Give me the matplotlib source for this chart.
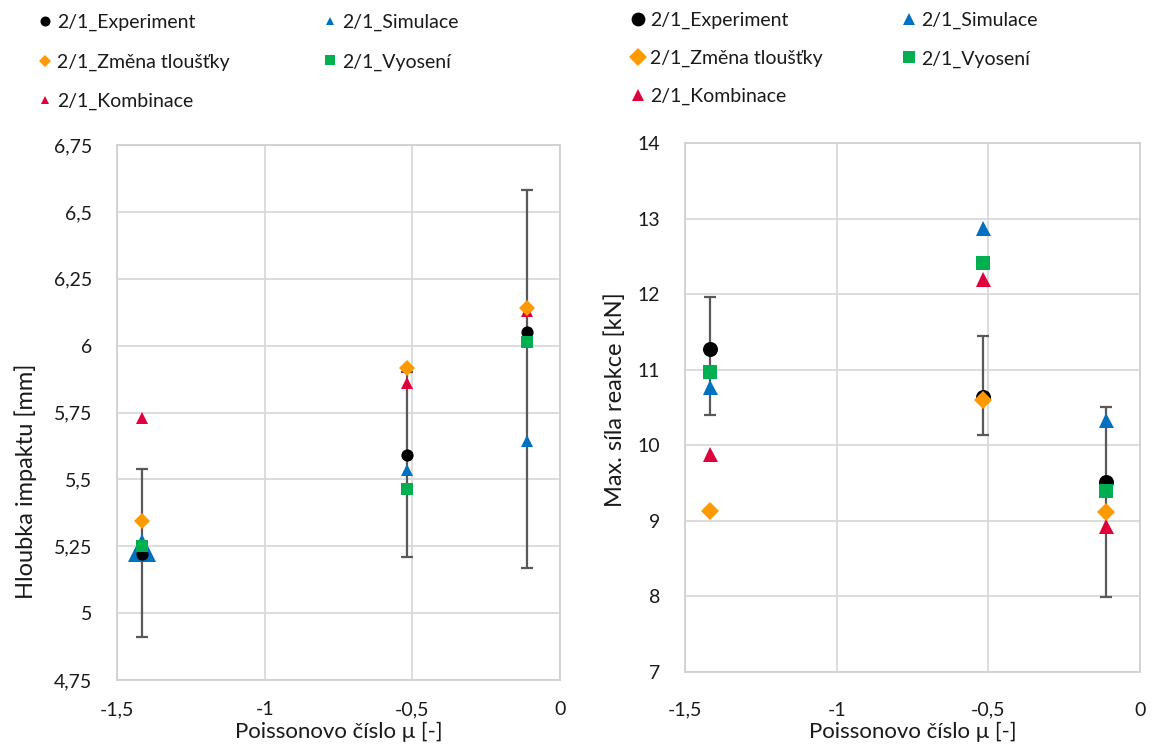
import matplotlib
matplotlib.use("Agg")
import matplotlib.pyplot as plt
from matplotlib.lines import Line2D

plt.rcParams['font.family'] = ['Lato', 'DejaVu Sans']

# ---- data ----
poisson = [-1.416, -0.519, -0.113]

depth_exp = [5.22, 5.59, 6.05]
depth_err_low = [0.31, 0.38, 0.88]
depth_err_high = [0.32, 0.31, 0.53]
depth_sim = [5.245, 5.536, 5.645]
depth_zmena = [5.345, 5.915, 6.142]
depth_vyos = [5.252, 5.464, 6.012]
depth_komb = [5.731, 5.862, 6.128]

force_exp = [11.27, 10.645, 9.51]
force_err_low = [0.865, 0.512, 1.52]
force_err_high = [0.692, 0.805, 1.00]
force_sim = [10.777, 12.87, 10.34]
force_zmena = [9.131, 10.598, 9.12]
force_vyos = [10.975, 12.414, 9.40]
force_komb = [9.883, 12.198, 8.93]

labels = ['2/1_Experiment', '2/1_Simulace', '2/1_Změna tloušťky', '2/1_Vyosení', '2/1_Kombinace']
depth_ticks = [4.75, 5, 5.25, 5.5, 5.75, 6, 6.25, 6.5, 6.75]
depth_ticklabels = ['4,75', '5', '5,25', '5,5', '5,75', '6', '6,25', '6,5', '6,75']
force_ticks = [7, 8, 9, 10, 11, 12, 13, 14]
force_ticklabels = ['7', '8', '9', '10', '11', '12', '13', '14']
x_ticks = [-1.5, -1, -0.5, 0]
x_ticklabels = ['-1,5', '-1', '-0,5', '0']

C_EXP = '#000000'
C_SIM = '#0070C0'
C_ZM = '#FF9900'
C_VY = '#00B050'
C_KO = '#E0003C'
GRID = '#D9D9D9'
FS = 14
TXT = '#1a1a1a'

W, H = 1155, 753
fig = plt.figure(figsize=(W / 100, H / 100), dpi=100)


def fx(px):
    return px / W


def fy(py):
    return 1 - py / H


# axes boxes in pixels: left, top, right, bottom
L1 = (117, 145, 560, 680)
L2 = (685, 143, 1140, 672)
ax1 = fig.add_axes([fx(L1[0]), fy(L1[3]), fx(L1[2] - L1[0]), (L1[3] - L1[1]) / H])
ax2 = fig.add_axes([fx(L2[0]), fy(L2[3]), fx(L2[2] - L2[0]), (L2[3] - L2[1]) / H])


def draw(ax, exp, elo, ehi, sim, zm, vy, ko, ms, dms, big_first_sim=None):
    ax.errorbar(poisson, exp, yerr=[elo, ehi], fmt='none', ecolor='#595959',
                elinewidth=1.6, capsize=4.3, capthick=1.6, zorder=2)
    for i, (xv, yv) in enumerate(zip(poisson, sim)):
        s = ms
        if big_first_sim is not None and i == 0:
            s = big_first_sim
        ax.plot([xv], [yv], ls='none', marker='^', color=C_SIM, markersize=s,
                markeredgewidth=0, zorder=3)
    ax.plot(poisson, exp, ls='none', marker='o', color=C_EXP, markersize=ms,
            markeredgewidth=0, zorder=4)
    ax.plot(poisson, ko, ls='none', marker='^', color=C_KO, markersize=ms,
            markeredgewidth=0, zorder=5)
    ax.plot(poisson, zm, ls='none', marker='D', color=C_ZM, markersize=dms,
            markeredgewidth=0, zorder=6)
    ax.plot(poisson, vy, ls='none', marker='s', color=C_VY, markersize=ms * 0.95,
            markeredgewidth=0, zorder=7)


draw(ax1, depth_exp, depth_err_low, depth_err_high, depth_sim, depth_zmena,
     depth_vyos, depth_komb, 8.8, 8.1, big_first_sim=19.5)
draw(ax2, force_exp, force_err_low, force_err_high, force_sim, force_zmena,
     force_vyos, force_komb, 10.8, 9.2)

for ax, box, yt, ytl, ylim, ylab, xpad, ylab_right, ylab_cy in [
        (ax1, L1, depth_ticks, depth_ticklabels, (4.75, 6.75), 'Hloubka impaktu [mm]', 15.1, 37, 481),
        (ax2, L2, force_ticks, force_ticklabels, (7, 14), 'Max. síla reakce [kN]', 21.3, 626, 400)]:
    ax.set_xlim(-1.5, 0)
    ax.set_ylim(*ylim)
    ax.set_xticks(x_ticks)
    ax.set_xticklabels(x_ticklabels)
    ax.set_yticks(yt)
    ax.set_yticklabels(ytl)
    ax.grid(True, color=GRID, linewidth=1.3, zorder=0)
    ax.set_axisbelow(True)
    for sp in ax.spines.values():
        sp.set_color('#D0D0D0')
        sp.set_linewidth(1.3)
    ax.tick_params(length=0, labelsize=FS, colors=TXT)
    ax.tick_params(axis='y', pad=18)
    ax.tick_params(axis='x', pad=xpad)
    ax.set_xlabel('Poissonovo číslo μ [-]', fontsize=16, color=TXT)
    ax.set_ylabel(ylab, fontsize=17, color=TXT)
    bw = box[2] - box[0]
    bh = box[3] - box[1]
    ax.xaxis.set_label_coords(0.5, -(722 - box[3]) / bh)
    ax.yaxis.set_label_coords((ylab_right - box[0]) / bw, (box[3] - ylab_cy) / bh)


def handles(sc):
    return {
        'exp': Line2D([], [], ls='none', marker='o', color=C_EXP, markersize=7.2 * sc, markeredgewidth=0),
        'sim': Line2D([], [], ls='none', marker='^', color=C_SIM, markersize=6.4 * sc, markeredgewidth=0),
        'zm': Line2D([], [], ls='none', marker='D', color=C_ZM, markersize=6.6 * sc, markeredgewidth=0),
        'vy': Line2D([], [], ls='none', marker='s', color=C_VY, markersize=6.6 * sc, markeredgewidth=0),
        'ko': Line2D([], [], ls='none', marker='^', color=C_KO, markersize=6.4 * sc, markeredgewidth=0),
    }


def make_legend(h, col1_x, col2_x, y_rows, spacing):
    common = dict(loc='center left', frameon=False, fontsize=FS, borderpad=0,
                  borderaxespad=0, handlelength=0.6, handletextpad=0.35,
                  labelspacing=spacing)
    l1 = fig.legend([h['exp'], h['zm'], h['ko']], [labels[0], labels[2], labels[4]],
                    bbox_to_anchor=(fx(col1_x), fy(y_rows[1])), **common)
    l2 = fig.legend([h['sim'], h['vy']], [labels[1], labels[3]],
                    bbox_to_anchor=(fx(col2_x), fy((y_rows[0] + y_rows[1]) / 2)), **common)
    for lg in (l1, l2):
        for t in lg.get_texts():
            t.set_color(TXT)


make_legend(handles(1.0), 45 - 6, 330 - 6, [22, 62, 102], 1.16)
make_legend(handles(1.38), 638 - 6, 909 - 6, [21, 58.5, 96], 1.08)

fig.savefig('out.png', dpi=100)
